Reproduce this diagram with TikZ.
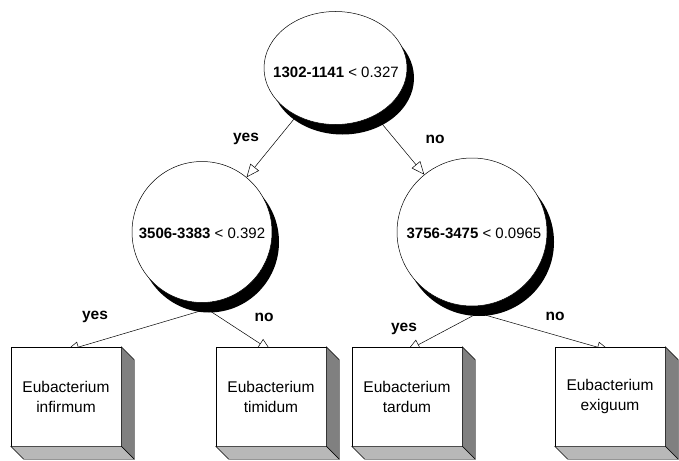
\documentclass[tikz,border=0pt]{standalone}
\usepackage{fontspec}
\setmainfont{Liberation Sans}
\usetikzlibrary{shapes.geometric,shadows,arrows.meta}
\pgfdeclarelayer{bg}
\pgfsetlayers{bg,main}
\tikzset{
  circ/.style={ellipse, draw, line width=0.5pt, fill=white, inner sep=0pt,
    drop shadow={fill=black, opacity=1, shadow xshift=7pt, shadow yshift=-10pt}},
  ctext/.style={font=\fontsize{15}{18}\selectfont, inner sep=0pt},
  lbl/.style={font=\fontsize{15.5}{18}\selectfont\bfseries, inner sep=0pt},
  leaf/.style={rectangle, draw, line width=0.5pt, fill=white, minimum width=110pt,
    minimum height=99pt, align=center, inner sep=0pt,
    font=\fontsize{15.5}{20}\selectfont},
  arr/.style={line width=0.5pt, -{Triangle[length=13pt,width=11pt,fill=white]}},
  sidedark/.style={fill=black!50, draw, line width=0.4pt},
  sidelight/.style={fill=black!28, draw, line width=0.4pt}
}
\begin{document}
\begin{tikzpicture}[x=1pt,y=-1pt]
\useasboundingbox (0,0) rectangle (679,460);

% decision nodes
\node[circ, minimum width=143pt, minimum height=113pt] (n0) at (335.5,68) {};
\node[circ, minimum width=140pt, minimum height=141pt] (n1) at (202,232) {};
\node[circ, minimum width=150pt, minimum height=148pt] (n2) at (472,232) {};

\node[ctext] (t0) at (336,72) {\textbf{1302-1141} < 0.327};
\node[ctext] (t1) at (202,233) {\textbf{3506-3383} < 0.392};
\node[ctext] (t2) at (474,233) {\textbf{3756-3475} < 0.0965};

% leaves
\node[leaf] (b1) at (66,396.5) {Eubacterium\\infirmum};
\node[leaf] (b2) at (271,396.5) {Eubacterium\\timidum};
\node[leaf] (b3) at (407,396.5) {Eubacterium\\tardum};
\node[leaf] (b4) at (610,396.5) {Eubacterium\\exiguum};

\foreach \b in {b1,b2,b3,b4}{
  \path[sidedark] (\b.north east) -- ++(13,13) -- ([shift={(13,13)}]\b.south east)
     -- (\b.south east) -- cycle;
  \path[sidelight] (\b.south west) -- ++(13,13) -- ([shift={(13,13)}]\b.south east)
     -- (\b.south east) -- cycle;
}

% feet of the lower connectors (hidden under the shadows)
\coordinate (f1) at (207,309);
\coordinate (f2) at (478,313);

\begin{pgfonlayer}{bg}
  \draw[arr] (n0) -- (n1);
  \draw[arr] (n0) -- (n2);
  \draw[arr] (f1) -- ([yshift=-4pt]b1.north);
  \draw[arr] (f1) -- ([yshift=-4pt]b2.north);
  \draw[arr] (f2) -- ([yshift=-4pt]b3.north);
  \draw[arr] (f2) -- ([yshift=-4pt]b4.north);
\end{pgfonlayer}

% branch labels
\node[lbl] (y0) at (246,138.5) {yes};
\node[lbl] (o0) at (435,139) {no};
\node[lbl] (y1) at (95,317) {yes};
\node[lbl] (o1) at (264,317) {no};
\node[lbl] (y2) at (404,329) {yes};
\node[lbl] (o2) at (555,316) {no};
\end{tikzpicture}
\end{document}
